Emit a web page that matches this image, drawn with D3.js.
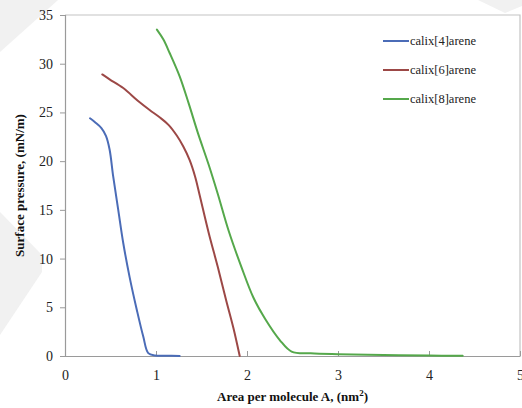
<!DOCTYPE html>
<html>
<head>
<meta charset="utf-8">
<script src="https://cdn.jsdelivr.net/npm/d3@7"></script>
<style>
  html, body { margin: 0; padding: 0; background: #fff; }
  svg { display: block; }
  .serif { font-family: "Liberation Serif", "Times New Roman", serif; }
</style>
</head>
<body>
<svg id="chart" width="522" height="408"></svg>
<script>
// Surface pressure–area isotherms of the three calixarenes
const seriesNames = ["calix[4]arene", "calix[6]arene", "calix[8]arene"];
const seriesColors = ["#4b6cb7", "#9c4846", "#55a84b"];

const calix4Area = [0.275, 0.33, 0.40, 0.45, 0.49, 0.53, 0.585, 0.64, 0.71, 0.79, 0.86, 0.915, 0.99, 1.10, 1.26];
const calix4Pressure = [24.4, 24.0, 23.4, 22.6, 21.2, 18.4, 15.0, 11.6, 8.1, 4.7, 2.0, 0.3, 0.06, 0.03, 0.0];

const calix6Area = [0.41, 0.49, 0.64, 0.80, 0.93, 1.04, 1.14, 1.23, 1.30, 1.37, 1.43, 1.48, 1.58, 1.68, 1.77, 1.85, 1.92];
const calix6Pressure = [28.9, 28.4, 27.5, 26.2, 25.25, 24.5, 23.7, 22.6, 21.5, 20.1, 18.4, 16.5, 12.6, 9.1, 5.75, 2.9, 0.0];

const calix8Area = [1.01, 1.08, 1.15, 1.26, 1.36, 1.46, 1.58, 1.68, 1.80, 1.94, 2.07, 2.20, 2.36, 2.49, 2.70, 3.00, 3.50, 4.00, 4.37];
const calix8Pressure = [33.5, 32.5, 31.1, 28.7, 25.9, 22.9, 19.6, 16.6, 12.8, 9.1, 6.0, 3.8, 1.64, 0.45, 0.27, 0.18, 0.10, 0.05, 0.02];

const xTicks = [0, 1, 2, 3, 4, 5];
const yTicks = [0, 5, 10, 15, 20, 25, 30, 35];
const xTitle = "Area per molecule A, (nm";
const yTitle = "Surface pressure, (mN/m)";

const series = [
  { name: seriesNames[0], color: seriesColors[0], x: calix4Area, y: calix4Pressure },
  { name: seriesNames[1], color: seriesColors[1], x: calix6Area, y: calix6Pressure },
  { name: seriesNames[2], color: seriesColors[2], x: calix8Area, y: calix8Pressure }
];

const W = 522, H = 408;
const margin = { top: 15, right: 2, bottom: 52, left: 65 };
const svg = d3.select("#chart");

// faint background watermark shapes
const wm = svg.append("g").attr("fill", "#f1f1f1");
wm.append("polygon").attr("points", "0,0 58,0 0,52");
wm.append("polygon").attr("points", "0,212 42,255 42,272 0,335");
wm.append("polygon").attr("points", "478,0 522,0 522,6 505,13");

const x = d3.scaleLinear().domain([0, 5]).range([margin.left, W - margin.right]);
const y = d3.scaleLinear().domain([0, 35]).range([H - margin.bottom, margin.top]);

// plot frame (top and right)
svg.append("path")
  .attr("d", `M${x(0)},${y(35)}H${x(5)}V${y(0)}`)
  .attr("fill", "none").attr("stroke", "#c4c4c4").attr("stroke-width", 1.2);

// y axis with outward ticks
const yAxis = svg.append("g")
  .attr("transform", `translate(${x(0)},0)`)
  .call(d3.axisLeft(y).tickValues(yTicks).tickSize(5).tickPadding(7).tickFormat(d3.format("d")));
yAxis.attr("font-family", null);
yAxis.select(".domain").attr("stroke", "#9a9a9a").attr("stroke-width", 1.2);
yAxis.selectAll(".tick line").attr("stroke", "#9a9a9a");
yAxis.selectAll("text").attr("class", "serif").attr("font-size", 14).attr("fill", "#222");

// x axis with inward ticks
const xAxis = svg.append("g")
  .attr("transform", `translate(0,${y(0)})`)
  .call(d3.axisBottom(x).tickValues(xTicks).tickSizeInner(-5).tickSizeOuter(0).tickPadding(14).tickFormat(d3.format("d")));
xAxis.attr("font-family", null);
xAxis.select(".domain").attr("stroke", "#9a9a9a").attr("stroke-width", 1.2);
xAxis.selectAll(".tick line").attr("stroke", "#9a9a9a");
xAxis.selectAll("text").attr("class", "serif").attr("font-size", 14).attr("fill", "#222");

// axis titles
const xt = svg.append("text")
  .attr("class", "serif")
  .attr("x", (x(0) + x(5)) / 2).attr("y", 401)
  .attr("text-anchor", "middle")
  .attr("font-size", 13).attr("font-weight", "bold").attr("fill", "#111");
xt.append("tspan").text(xTitle);
xt.append("tspan").text("2").attr("font-size", 9).attr("dy", -5);
xt.append("tspan").text(")").attr("dy", 5);

svg.append("text")
  .attr("class", "serif")
  .attr("transform", `translate(24,${(y(0) + y(35)) / 2}) rotate(-90)`)
  .attr("text-anchor", "middle")
  .attr("font-size", 13).attr("font-weight", "bold").attr("fill", "#111")
  .text(yTitle);

// isotherm curves
const line = d3.line()
  .x(d => x(d[0])).y(d => y(d[1]))
  .curve(d3.curveCatmullRom.alpha(0.5));

svg.append("g").selectAll("path")
  .data(series)
  .join("path")
  .attr("d", s => line(s.x.map((v, i) => [v, s.y[i]])))
  .attr("fill", "none")
  .attr("stroke", s => s.color)
  .attr("stroke-width", 2)
  .attr("stroke-linejoin", "round")
  .attr("stroke-linecap", "round");

// legend
const legend = svg.append("g").attr("transform", "translate(383,41)");
const rows = legend.selectAll("g").data(series).join("g")
  .attr("transform", (d, i) => `translate(0,${i * 29})`);
rows.append("line")
  .attr("x1", 0).attr("x2", 26).attr("y1", 0).attr("y2", 0)
  .attr("stroke", d => d.color).attr("stroke-width", 2);
rows.append("text")
  .attr("class", "serif")
  .attr("x", 27).attr("y", 4)
  .attr("font-size", 12.5).attr("fill", "#222")
  .text(d => d.name);
</script>
</body>
</html>
